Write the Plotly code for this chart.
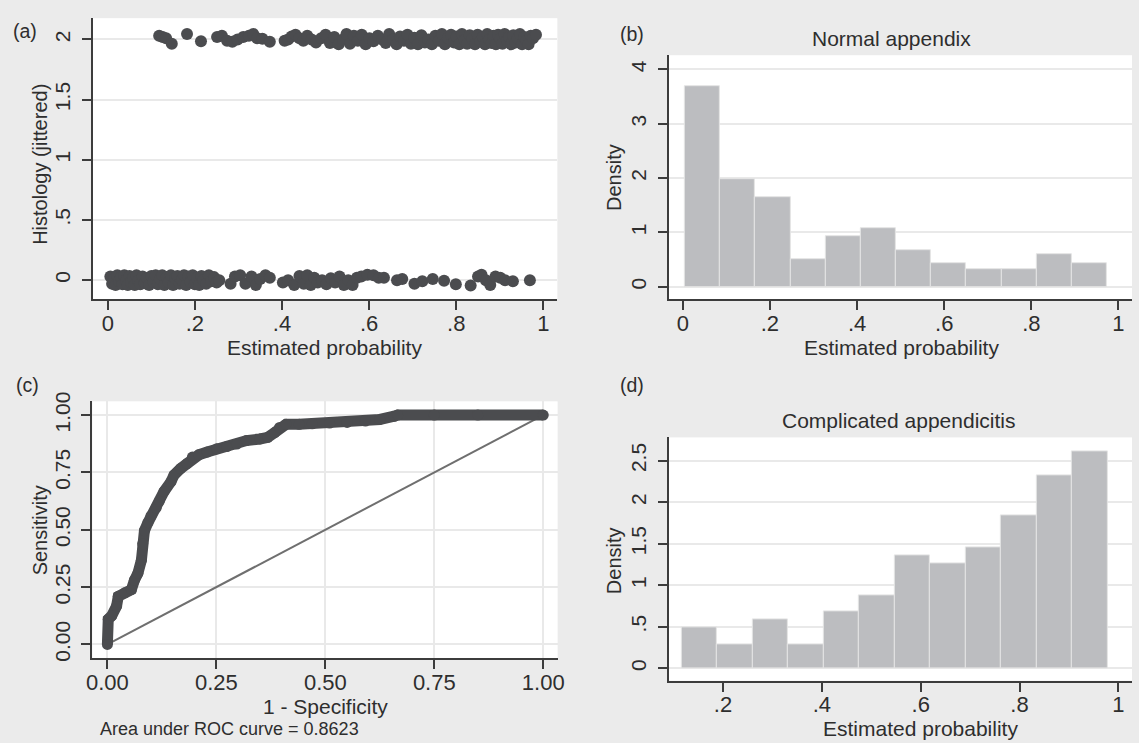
import plotly.graph_objects as go

W, H = 1139, 743

# ---------------- data ----------------
# (a) Histology (jittered) vs estimated probability: 2 = complicated, 0 = normal
comp_points = [
    (0.118, 2.030), (0.126, 2.020), (0.134, 2.010), (0.147, 1.965), (0.182, 2.045), (0.214, 1.985),
    (0.251, 2.020), (0.262, 2.030), (0.274, 1.990), (0.286, 1.980), (0.298, 2.000), (0.311, 2.020),
    (0.324, 2.030), (0.334, 2.045), (0.343, 2.010), (0.355, 2.005), (0.372, 1.980),
    (0.406, 1.990), (0.414, 2.000), (0.422, 2.025), (0.431, 2.040), (0.440, 2.010), (0.449, 1.990),
    (0.458, 2.030), (0.468, 2.000), (0.478, 1.975), (0.490, 2.010), (0.500, 2.040), (0.510, 1.970),
    (0.520, 2.020), (0.530, 1.960), (0.540, 2.000), (0.548, 2.045), (0.556, 1.965), (0.565, 2.030),
    (0.574, 1.990), (0.583, 2.040), (0.592, 1.960), (0.601, 2.010), (0.610, 1.985), (0.620, 2.030),
    (0.630, 2.000), (0.638, 1.970), (0.646, 2.045), (0.655, 2.000), (0.663, 1.960), (0.671, 2.025),
    (0.680, 1.990), (0.688, 2.040), (0.696, 1.965), (0.704, 2.015), (0.712, 1.960), (0.720, 2.035),
    (0.728, 1.975), (0.736, 2.000), (0.744, 1.960), (0.752, 2.030), (0.760, 1.990), (0.767, 2.045),
    (0.774, 1.960), (0.781, 2.010), (0.788, 2.040), (0.795, 1.975), (0.801, 2.025), (0.807, 1.960),
    (0.813, 2.045), (0.819, 1.995), (0.825, 1.965), (0.831, 2.035), (0.837, 2.005), (0.843, 1.960),
    (0.849, 2.040), (0.855, 1.985), (0.861, 2.020), (0.866, 1.960), (0.871, 2.045), (0.876, 2.000),
    (0.881, 1.970), (0.886, 2.030), (0.891, 1.960), (0.896, 2.040), (0.901, 2.005), (0.906, 1.965),
    (0.911, 2.045), (0.916, 1.990), (0.921, 2.025), (0.926, 1.960), (0.931, 2.035), (0.936, 1.975),
    (0.941, 2.010), (0.946, 2.045), (0.951, 1.960), (0.956, 2.020), (0.961, 1.990), (0.966, 1.960),
    (0.971, 2.030), (0.976, 2.010), (0.983, 2.040),
]
normal_points = [
    (0.006, 0.030), (0.010, -0.030), (0.014, 0.010), (0.018, -0.040), (0.022, 0.040), (0.026, -0.010),
    (0.030, 0.025), (0.034, -0.035), (0.038, 0.040), (0.042, 0.000), (0.046, -0.040), (0.050, 0.035),
    (0.054, -0.020), (0.058, 0.020), (0.062, -0.040), (0.066, 0.040), (0.070, -0.005), (0.075, -0.035),
    (0.080, 0.030), (0.085, -0.025), (0.090, 0.015), (0.095, -0.040), (0.100, 0.035), (0.105, -0.015),
    (0.110, 0.040), (0.115, -0.035), (0.120, 0.010), (0.125, 0.040), (0.130, -0.040), (0.135, 0.025),
    (0.140, -0.020), (0.145, 0.040), (0.150, -0.040), (0.155, 0.015), (0.160, 0.035), (0.165, -0.030),
    (0.170, 0.000), (0.175, 0.040), (0.180, -0.040), (0.185, 0.030), (0.190, -0.015), (0.195, 0.040),
    (0.200, -0.035), (0.205, 0.020), (0.210, -0.040), (0.215, 0.035), (0.220, 0.000), (0.226, -0.030),
    (0.232, 0.040), (0.238, -0.010), (0.244, 0.025), (0.250, -0.020), (0.256, 0.000),
    (0.282, -0.030), (0.292, 0.030), (0.304, 0.040), (0.316, -0.030), (0.330, 0.030), (0.340, -0.040),
    (0.350, 0.010), (0.362, 0.040), (0.372, 0.020),
    (0.402, -0.020), (0.414, 0.000), (0.428, -0.040), (0.440, 0.035), (0.450, -0.030), (0.458, 0.040),
    (0.466, -0.040), (0.474, 0.020), (0.482, -0.020), (0.492, 0.000), (0.502, -0.035), (0.512, 0.015),
    (0.522, -0.020), (0.532, 0.030), (0.542, -0.040), (0.552, 0.000), (0.562, -0.040), (0.572, 0.020),
    (0.582, 0.030), (0.596, 0.045), (0.610, 0.040), (0.622, 0.020), (0.634, 0.020),
    (0.664, 0.000), (0.676, 0.010), (0.704, -0.030), (0.722, -0.010), (0.746, 0.010),
    (0.772, -0.005), (0.799, -0.035), (0.833, -0.045), (0.850, 0.030), (0.858, 0.045), (0.868, 0.000),
    (0.878, -0.040), (0.890, 0.030), (0.901, 0.020), (0.912, 0.000), (0.930, -0.010), (0.969, 0.000),
]

# (b) Normal appendix histogram (density)
normal_edges = [0.0049, 0.0856, 0.1663, 0.2470, 0.3277, 0.4084, 0.4891,
                0.5698, 0.6505, 0.7312, 0.8119, 0.8926, 0.9733]
normal_density = [3.687, 1.976, 1.657, 0.512, 0.934, 1.084, 0.675, 0.428, 0.331, 0.331, 0.596, 0.428]

# (d) Complicated appendicitis histogram (density)
comp_edges = [0.1165, 0.1883, 0.2601, 0.3319, 0.4037, 0.4755, 0.5473,
              0.6191, 0.6909, 0.7627, 0.8345, 0.9063, 0.9781]
comp_density = [0.493, 0.288, 0.591, 0.288, 0.690, 0.875, 1.360, 1.266, 1.451, 1.841, 2.326, 2.614]

# (c) ROC curve
roc_fpr = [0.0, 0.002, 0.010, 0.021, 0.025, 0.040, 0.055, 0.062, 0.070, 0.078, 0.081, 0.085,
           0.093, 0.100, 0.112, 0.119, 0.130, 0.146, 0.153, 0.168, 0.183, 0.195, 0.210, 0.229,
           0.251, 0.274, 0.297, 0.319, 0.350, 0.368, 0.384, 0.395, 0.410, 0.440, 0.470, 0.510,
           0.550, 0.592, 0.625, 0.658, 0.666, 0.750, 0.850, 1.000]
roc_tpr = [0.0, 0.110, 0.125, 0.167, 0.210, 0.225, 0.239, 0.280, 0.310, 0.367, 0.439, 0.496,
           0.531, 0.560, 0.596, 0.624, 0.667, 0.710, 0.739, 0.767, 0.789, 0.817, 0.827, 0.839,
           0.853, 0.863, 0.874, 0.889, 0.896, 0.903, 0.924, 0.946, 0.960, 0.960, 0.962, 0.965,
           0.968, 0.974, 0.981, 0.995, 1.000, 1.000, 1.000, 1.000]
ref_line = [0.0, 1.0]
auc_text = "Area under ROC curve = 0.8623"

prob_ticks = [0, 0.2, 0.4, 0.6, 0.8, 1]
prob_labels = ["0", ".2", ".4", ".6", ".8", "1"]
hist_ticks_a = [0, 0.5, 1, 1.5, 2]
hist_labels_a = ["0", ".5", "1", "1.5", "2"]
dens_ticks_b = [0, 1, 2, 3, 4]
dens_labels_b = ["0", "1", "2", "3", "4"]
roc_ticks = [0, 0.25, 0.5, 0.75, 1]
roc_labels = ["0.00", "0.25", "0.50", "0.75", "1.00"]
prob_ticks_d = [0.2, 0.4, 0.6, 0.8, 1]
prob_labels_d = [".2", ".4", ".6", ".8", "1"]
dens_ticks_d = [0, 0.5, 1, 1.5, 2, 2.5]
dens_labels_d = ["0", ".5", "1", "1.5", "2", "2.5"]

# ---------------- styles ----------------
FONT = "Liberation Sans, Arial, sans-serif"
TXT = "#2e2e2e"
DOT = "#4b4c4f"
BAR = "#bcbdc0"
GRID = "#e9e9e9"
AX = "#3c3c3c"
BG = "#ebebeb"
FS = 21


def px_x(p):
    return p / W


def px_y(p):
    return 1 - p / H


fig = go.Figure()

# (a)
fig.add_trace(go.Scatter(x=[p[0] for p in comp_points], y=[p[1] for p in comp_points],
                         mode="markers", marker=dict(size=12, color=DOT), xaxis="x", yaxis="y",
                         showlegend=False, hoverinfo="skip"))
fig.add_trace(go.Scatter(x=[p[0] for p in normal_points], y=[p[1] for p in normal_points],
                         mode="markers", marker=dict(size=12, color=DOT), xaxis="x", yaxis="y",
                         showlegend=False, hoverinfo="skip"))

# (b)
nb_x = [(normal_edges[i] + normal_edges[i + 1]) / 2 for i in range(len(normal_density))]
nb_w = [normal_edges[i + 1] - normal_edges[i] for i in range(len(normal_density))]
fig.add_trace(go.Bar(x=nb_x, y=normal_density, width=nb_w, marker=dict(color=BAR, line=dict(color="#e4e4e4", width=1)),
                     xaxis="x2", yaxis="y2", showlegend=False, hoverinfo="skip"))

# (c)
fig.add_trace(go.Scatter(x=ref_line, y=ref_line, mode="lines", line=dict(color="#6f6f6f", width=2),
                         xaxis="x3", yaxis="y3", showlegend=False, hoverinfo="skip"))
fig.add_trace(go.Scatter(x=roc_fpr, y=roc_tpr, mode="lines+markers", line=dict(color=DOT, width=11),
                         marker=dict(size=11, color=DOT), xaxis="x3", yaxis="y3",
                         showlegend=False, hoverinfo="skip"))

# (d)
cb_x = [(comp_edges[i] + comp_edges[i + 1]) / 2 for i in range(len(comp_density))]
cb_w = [comp_edges[i + 1] - comp_edges[i] for i in range(len(comp_density))]
fig.add_trace(go.Bar(x=cb_x, y=comp_density, width=cb_w, marker=dict(color=BAR, line=dict(color="#e4e4e4", width=1)),
                     xaxis="x4", yaxis="y4", showlegend=False, hoverinfo="skip"))


def xax(dom, rng, tv, tt, grid=False, anchor="y"):
    return dict(domain=[px_x(dom[0]), min(1, px_x(dom[1]))], range=rng, tickvals=tv, ticktext=tt,
                showline=True, linecolor=AX, linewidth=2, ticks="outside", ticklen=9, tickwidth=1.5,
                tickcolor=AX, showgrid=grid, gridcolor=GRID, gridwidth=2, zeroline=False,
                anchor=anchor, tickfont=dict(size=22, color=TXT, family=FONT), ticklabelstandoff=-6,
                fixedrange=True)


def yax(dom, rng, tv, tt, anchor="x"):
    return dict(domain=[px_y(dom[1]), px_y(dom[0])], range=rng, tickvals=tv, ticktext=tt,
                showline=True, linecolor=AX, linewidth=2, ticks="outside", ticklen=9, tickwidth=1.5,
                tickcolor=AX, showgrid=True, gridcolor=GRID, gridwidth=2, zeroline=False,
                anchor=anchor, tickangle=-90, tickfont=dict(size=21, color=TXT, family=FONT),
                ticklabelstandoff=3, fixedrange=True)


fig.update_layout(
    width=W, height=H, margin=dict(l=0, r=0, t=0, b=0),
    paper_bgcolor=BG, plot_bgcolor="white", bargap=0,
    font=dict(family=FONT, size=FS, color=TXT),
    xaxis=xax((87.5, 557.7), [-0.035, 1.032], prob_ticks, prob_labels, anchor="y"),
    yaxis=yax((8.3, 294.3), [-0.158, 2.177], hist_ticks_a, hist_labels_a, anchor="x"),
    xaxis2=xax((670.5, 1139), [-0.032, 1.031], prob_ticks, prob_labels, anchor="y2"),
    yaxis2=yax((46, 294.3), [-0.228, 4.262], dens_ticks_b, dens_labels_b, anchor="x2"),
    xaxis3=xax((87.3, 558), [-0.0346, 1.033], roc_ticks, roc_labels, grid=True, anchor="y3"),
    yaxis3=yax((398.3, 660), [-0.061, 1.06], roc_ticks, roc_labels, anchor="x3"),
    xaxis4=xax((670.5, 1139), [0.0904, 1.0276], prob_ticks_d, prob_labels_d, anchor="y4"),
    yaxis4=yax((435, 682.7), [-0.150, 2.78], dens_ticks_d, dens_labels_d, anchor="x4"),
)


def note(text, x, y, size=FS, angle=0, xanchor="center"):
    fig.add_annotation(text=text, x=px_x(x), y=px_y(y), xref="paper", yref="paper",
                       showarrow=False, textangle=angle, xanchor=xanchor, yanchor="middle",
                       borderpad=0, font=dict(size=size, color=TXT, family=FONT))


note("(a)", 19, 21, size=19.5)
note("(b)", 633, 24, size=19.5)
note("(c)", 22, 382, size=19.5)
note("(d)", 633, 382, size=19.5)
note("Normal appendix", 896, 29)
note("Complicated appendicitis", 903, 418)
note("Estimated probability", 322, 344)
note("Estimated probability", 906, 344)
note("1 - Specificity", 323, 709)
note("Estimated probability", 925, 731)
note("Histology (jittered)", 35, 157, size=20, angle=-90)
note("Density", 615, 170, size=20, angle=-90)
note("Sensitivity", 34, 530, size=20, angle=-90)
note("Density", 615, 560, size=20, angle=-90)
note(auc_text, 94, 732, size=18, xanchor="left")

fig.write_html("out.html", config={"displayModeBar": False},
               post_script="document.body.style.margin='0px';document.body.style.overflow='hidden';")
